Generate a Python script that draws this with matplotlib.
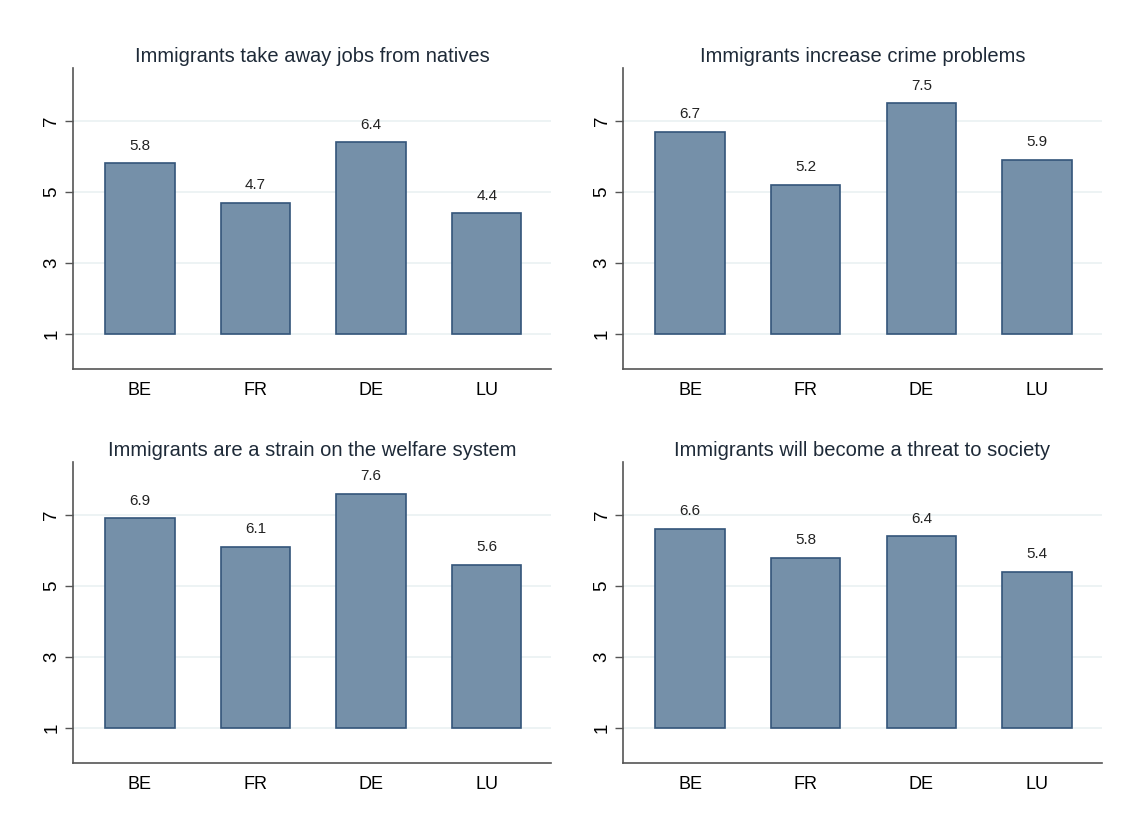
import matplotlib.pyplot as plt
import numpy as np

plt.rcParams['font.family'] = ['Liberation Sans', 'DejaVu Sans']

countries = ["BE", "FR", "DE", "LU"]
titles = [
    "Immigrants take away jobs from natives",
    "Immigrants increase crime problems",
    "Immigrants are a strain on the welfare system",
    "Immigrants will become a threat to society",
]
jobs = [5.8, 4.7, 6.4, 4.4]
crime = [6.7, 5.2, 7.5, 5.9]
welfare = [6.9, 6.1, 7.6, 5.6]
threat = [6.6, 5.8, 6.4, 5.4]
series = [jobs, crime, welfare, threat]

bar_fill = "#7590a9"
bar_edge = "#34557a"
grid_col = "#eaf1f2"
text_col = "#1e2a38"

fig = plt.figure(figsize=(11.37, 8.26), dpi=100)

# axes boxes in figure fractions (left, bottom, width, height)
boxes = [
    (0.064, 0.553, 0.421, 0.365),
    (0.548, 0.553, 0.421, 0.365),
    (0.064, 0.076, 0.421, 0.365),
    (0.548, 0.076, 0.421, 0.365),
]

x = np.arange(len(countries))
for box, title, vals in zip(boxes, titles, series):
    ax = fig.add_axes(box)
    heights = [v - 1 for v in vals]
    ax.bar(x, heights, width=0.6, bottom=1, color=bar_fill,
           edgecolor=bar_edge, linewidth=1.2, zorder=3)
    for xi, v in zip(x, vals):
        ax.text(xi, v + 0.3, f"{v}", ha="center", va="bottom",
                fontsize=11, color="#222222")
    ax.set_xlim(-0.58, 3.56)
    ax.set_ylim(0, 8.5)
    ax.set_yticks([1, 3, 5, 7])
    ax.set_yticklabels(["1", "3", "5", "7"], rotation=90, va="center",
                       fontsize=13.5)
    ax.set_xticks(x)
    ax.set_xticklabels(countries, fontsize=13)
    ax.tick_params(axis="x", length=0, pad=9)
    ax.tick_params(axis="y", length=6, width=1, color="#555555", pad=3)
    ax.yaxis.grid(True, color=grid_col, linewidth=1.2, zorder=0)
    ax.set_axisbelow(True)
    for s in ["top", "right"]:
        ax.spines[s].set_visible(False)
    for s in ["left", "bottom"]:
        ax.spines[s].set_color("#555555")
        ax.spines[s].set_linewidth(1.2)
    ax.set_title(title, fontsize=14.5, color=text_col, pad=4)

plt.savefig("out.png", dpi=100, facecolor="white")
plt.close()
